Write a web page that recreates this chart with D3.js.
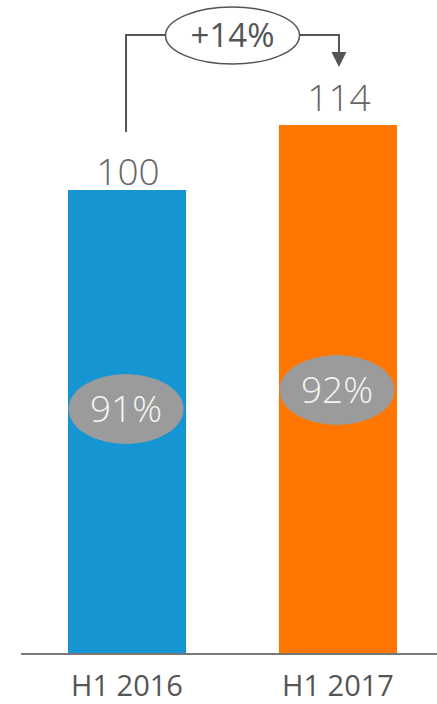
<!DOCTYPE html>
<html>
<head>
<meta charset="utf-8">
<script src="https://cdn.jsdelivr.net/npm/d3@7"></script>
<style>
	body { margin: 0; background: #fff; }
	svg { display: block; font-family: "Open Sans", sans-serif; }
</style>
</head>
<body>
<script>
//wrap everything in an anonymous function so nothing is in global scope
(function () {
	//chart data
	var categories = ["H1 2016", "H1 2017"];
	var values = [100, 114];
	var shares = [91, 92];
	var growthLabel = "+14%";
	var barColors = ["#1596d3", "#ff7700"];

	//layout
	var width = 437, height = 704,
		baseY = 654,
		labelGap = [5, 14], //space between bar top and value label
		badgeY = [409, 390]; //vertical centre of the grey share badges

	var svg = d3.select("body")
		.append("svg")
		.attr("width", width)
		.attr("height", height);

	//scales
	var x = d3.scaleBand()
		.domain(categories)
		.range([21, 444])
		.paddingInner(0.44)
		.paddingOuter(0.2227);

	var y = d3.scaleLinear()
		.domain([0, 100])
		.range([baseY, 190]);

	var rows = categories.map(function (c, i) {
		return { cat: c, value: values[i], share: shares[i], color: barColors[i], by: badgeY[i], gap: labelGap[i] };
	});

	//bars
	svg.selectAll(".bar")
		.data(rows)
		.enter()
		.append("rect")
		.attr("class", "bar")
		.attr("x", function (d) { return x(d.cat); })
		.attr("y", function (d) { return y(d.value); })
		.attr("width", x.bandwidth())
		.attr("height", function (d) { return baseY - y(d.value); })
		.style("fill", function (d) { return d.color; });

	//baseline
	svg.append("line")
		.attr("x1", 21).attr("x2", width)
		.attr("y1", baseY).attr("y2", baseY)
		.style("stroke", "#777")
		.style("stroke-width", 2);

	//category labels
	svg.selectAll(".cat")
		.data(rows)
		.enter()
		.append("text")
		.attr("class", "cat")
		.attr("x", function (d) { return x(d.cat) + x.bandwidth() / 2; })
		.attr("y", 696)
		.attr("text-anchor", "middle")
		.style("font-size", "29px")
		.style("fill", "#555")
		.text(function (d) { return d.cat; });

	//value labels
	svg.selectAll(".val")
		.data(rows)
		.enter()
		.append("text")
		.attr("class", "val")
		.attr("x", function (d) { return x(d.cat) + x.bandwidth() / 2 + 1; })
		.attr("y", function (d) { return y(d.value) - d.gap; })
		.attr("text-anchor", "middle")
		.style("font-size", "37px")
		.style("font-weight", 300)
		.style("fill", "#666")
		.text(function (d) { return d.value; });

	//share badges
	var badges = svg.selectAll(".badge")
		.data(rows)
		.enter()
		.append("g")
		.attr("class", "badge")
		.attr("transform", function (d) {
			return "translate(" + (x(d.cat) + x.bandwidth() / 2 - 1) + "," + d.by + ")";
		});

	badges.append("ellipse")
		.attr("rx", 57.5)
		.attr("ry", 35)
		.style("fill", "#9b9b9b");

	badges.append("text")
		.attr("y", 13)
		.attr("text-anchor", "middle")
		.style("font-size", "37px")
		.style("font-weight", 300)
		.style("fill", "#f4f4f4")
		.text(function (d) { return d.share + "%"; });

	//growth bracket from first bar label to second
	var x0 = x(categories[0]) + x.bandwidth() / 2 - 1,
		x1 = x(categories[1]) + x.bandwidth() / 2 + 1,
		topY = 35,
		cx = 232.5;

	var line = d3.line();
	svg.append("path")
		.attr("d", line([[x0, y(values[0]) - 58], [x0, topY], [cx, topY]]))
		.style("fill", "none")
		.style("stroke", "#555")
		.style("stroke-width", 2);

	svg.append("path")
		.attr("d", line([[cx, topY], [x1, topY], [x1, 54]]))
		.style("fill", "none")
		.style("stroke", "#555")
		.style("stroke-width", 2);

	//arrow head
	svg.append("path")
		.attr("d", line([[x1 - 7.5, 52], [x1 + 7.5, 52], [x1, 67]]) + "Z")
		.style("fill", "#555");

	svg.append("ellipse")
		.attr("cx", cx)
		.attr("cy", topY + 0.5)
		.attr("rx", 67)
		.attr("ry", 28.5)
		.style("fill", "#fff")
		.style("stroke", "#555")
		.style("stroke-width", 1.5);

	svg.append("text")
		.attr("x", cx)
		.attr("y", 47)
		.attr("text-anchor", "middle")
		.style("font-size", "33px")
		.style("fill", "#555")
		.text(growthLabel);
})();
</script>
</body>
</html>
